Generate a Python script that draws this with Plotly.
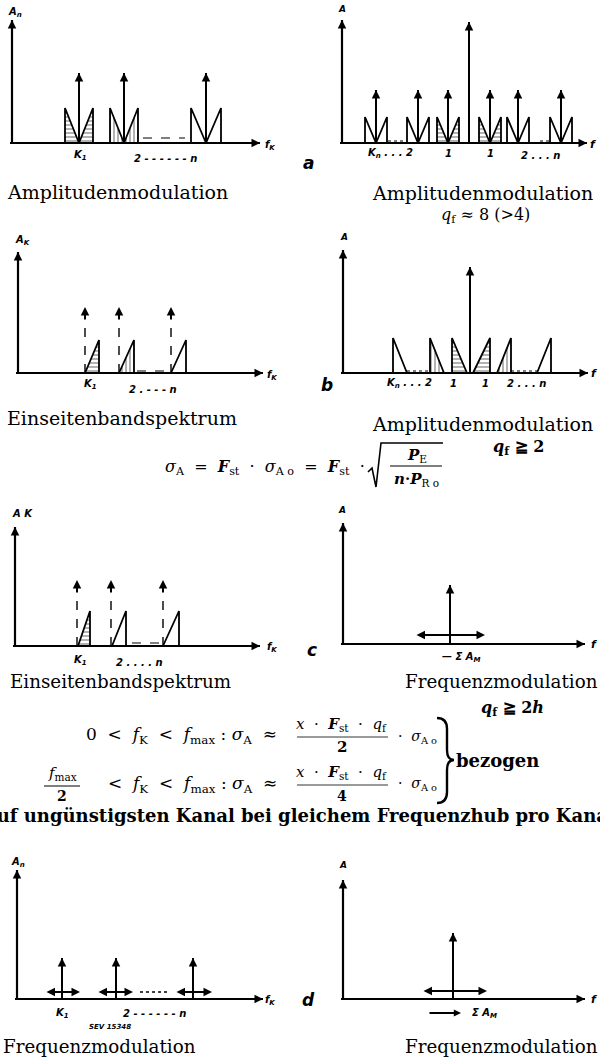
import plotly.graph_objects as go

FIG_W, FIG_H = 600, 1057

# ---------------- data (offset from each panel's axis origin) ----
# (a) left : AM of channel carriers
a1_carrier_f = [67, 112, 194]
a1_carrier_amp = 70
a1_side_half = [14, 14, 15]
a1_side_amp = 35
a1_hatch = ["-", "|", ""]
a1_gap = [131, 173]
a1_gap_amp = 5

# (a) right : AM of the main carrier by the channel carriers
a2_main_f = 127
a2_main_amp = 121
a2_sub_f = [34, 76, 106, 148, 176, 219]
a2_sub_amp = 53
a2_side_half = 11
a2_side_amp = 26
a2_hatch = ["", "", "-", "-", "", ""]
a2_gaps = [[46, 64], [198, 207]]

# (b) left : single sideband
b1_carrier_f = [67, 101, 153]
b1_carrier_amp = 66
b1_band_end = [81, 116, 168]
b1_band_amp = 33
b1_hatch = ["-", "|", ""]
b1_gap = [119, 153]

# (b) right
b2_main_f = 127
b2_main_amp = 106
b2_lower = [[50, 64], [87, 101], [109, 124]]
b2_upper = [[130, 147], [154, 168], [194, 208]]
b2_band_amp = 35
b2_lower_hatch = ["", "|", "-"]
b2_upper_hatch = ["-", "|", ""]
b2_gaps = [[64, 87], [168, 194]]

# (c) left
c1_carrier_f = [62, 96, 148]
c1_carrier_amp = 66
c1_band = [[63, 75], [97, 111], [148, 164]]
c1_band_amp = 35
c1_hatch = ["-", "", ""]
c1_gap = [117, 148]

# (c) right : FM
c2_carrier_f = 107
c2_carrier_amp = 59
c2_swing = [72, 142]
c2_swing_amp = 9

# (d) left
d1_carrier_f = [45, 99, 176]
d1_carrier_amp = 41
d1_swing = [[28, 63], [80, 116], [158, 195]]
d1_swing_amp = 7
d1_gap = [123, 153]

# (d) right
d2_carrier_f = 110
d2_carrier_amp = 66
d2_swing = [79, 144]
d2_swing_amp = 8

# ---------------- panel geometry (pixel origin, axis lengths) ----------------
GEOM = {
    "aL": (12, 143, 123, 248),
    "aR": (342, 143, 123, 245),
    "bL": (18, 373, 121, 245),
    "bR": (343, 373, 123, 245),
    "cL": (15, 646, 119, 245),
    "cR": (343, 644, 121, 242),
    "dL": (17, 999, 129, 246),
    "dR": (343, 999, 119, 242),
}

SERIF = "DejaVu Serif"
HAND = "DejaVu Sans"
HEAD = 0.85

fig = go.Figure()
layout = dict(width=FIG_W, height=FIG_H, margin=dict(l=0, r=0, t=0, b=0),
              paper_bgcolor="white", plot_bgcolor="rgba(0,0,0,0)", showlegend=False)
annotations = []
shapes = []
AX = {}

for i, (name, (ox, oy, ylen, xlen)) in enumerate(GEOM.items(), start=1):
    x0 = max(0, ox - 14)
    x1 = min(FIG_W, ox + 262)
    yt = max(0, oy - 140)
    yb = min(FIG_H, oy + 14)
    xn = "x" if i == 1 else f"x{i}"
    yn = "y" if i == 1 else f"y{i}"
    layout["xaxis" if i == 1 else f"xaxis{i}"] = dict(
        domain=[x0 / FIG_W, x1 / FIG_W], range=[x0 - ox, x1 - ox],
        visible=False, fixedrange=True, anchor=yn)
    layout["yaxis" if i == 1 else f"yaxis{i}"] = dict(
        domain=[1 - yb / FIG_H, 1 - yt / FIG_H], range=[oy - yb, oy - yt],
        visible=False, fixedrange=True, anchor=xn)
    AX[name] = (xn, yn)


def line(ax, xs, ys, width=2.0, dash="solid"):
    fig.add_trace(go.Scatter(x=xs, y=ys, mode="lines",
                             line=dict(color="black", width=width, dash=dash),
                             xaxis=ax[0], yaxis=ax[1], hoverinfo="skip"))


def poly(ax, xs, ys, hatch):
    kw = dict(fill="toself", fillcolor="rgba(0,0,0,0)")
    if hatch:
        kw = dict(fill="toself", fillcolor="white",
                  fillpattern=dict(shape=hatch, fgcolor="black", bgcolor="white",
                                   size=4, solidity=0.3))
    fig.add_trace(go.Scatter(x=xs, y=ys, mode="lines",
                             line=dict(color="black", width=1.8),
                             xaxis=ax[0], yaxis=ax[1], hoverinfo="skip", **kw))


def head(ax, x, y, dx, dy, size=HEAD):
    annotations.append(dict(x=x, y=y, ax=x - dx, ay=y - dy, xref=ax[0], yref=ax[1],
                            axref=ax[0], ayref=ax[1], text="", showarrow=True,
                            arrowhead=2, arrowsize=size, arrowwidth=2,
                            arrowcolor="black", standoff=0))


def dbl(ax, xa, xb, y):
    annotations.append(dict(x=xb, y=y, ax=xa, ay=y, xref=ax[0], yref=ax[1],
                            axref=ax[0], ayref=ax[1], text="", showarrow=True,
                            arrowhead=2, startarrowhead=2, arrowside="end+start",
                            arrowsize=HEAD, startarrowsize=HEAD, arrowwidth=2,
                            arrowcolor="black", standoff=0, startstandoff=0))


def carrier(ax, f, amp, dash="solid"):
    line(ax, [f, f], [0, amp], width=2.0 if dash == "solid" else 1.4, dash=dash)
    head(ax, f, amp, 0, 14)


def axes(name):
    ox, oy, ylen, xlen = GEOM[name]
    ax = AX[name]
    line(ax, [0, 0], [0, ylen], width=2.2)
    line(ax, [-2, xlen], [0, 0], width=2.2)
    head(ax, 0, ylen, 0, 20)
    head(ax, xlen, 0, 20, 0)


def px(x):
    return x / FIG_W


def py(y):
    return 1 - y / FIG_H


def txt(x, y, s, size=11, family=HAND, xanchor="center", color="black", weight="normal", style="normal"):
    annotations.append(dict(x=px(x), y=py(y), xref="paper", yref="paper", text=s,
                            showarrow=False, xanchor=xanchor, yanchor="middle",
                            font=dict(family=family, size=size, color=color,
                                      weight=weight, style=style)))


def hand(x, y, s, size=10, xanchor="center"):
    txt(x, y, s, size=size, family=HAND, xanchor=xanchor, weight="bold", style="italic")


def pline(xa, ya, xb, yb, width=1.0, dash="solid"):
    shapes.append(dict(type="line", xref="paper", yref="paper", x0=px(xa), y0=py(ya),
                       x1=px(xb), y1=py(yb), line=dict(color="black", width=width, dash=dash)))


def ppath(points_cmds, width=2.0):
    parts = []
    for cmd, *pts in points_cmds:
        coords = " ".join(f"{px(pts[k]):.5f},{py(pts[k+1]):.5f}" for k in range(0, len(pts), 2))
        parts.append(f"{cmd} {coords}")
    shapes.append(dict(type="path", xref="paper", yref="paper", path=" ".join(parts),
                       line=dict(color="black", width=width)))


# ---------------- (a) left ----------------
ax = AX["aL"]
axes("aL")
for f, w, hz in zip(a1_carrier_f, a1_side_half, a1_hatch):
    poly(ax, [f - w, f - w, f, f - w], [0, a1_side_amp, 0, 0], hz)
    poly(ax, [f, f + w, f + w, f], [0, a1_side_amp, 0, 0], hz)
    carrier(ax, f, a1_carrier_amp)
line(ax, a1_gap, [a1_gap_amp, a1_gap_amp], width=1.2, dash="dash")

# ---------------- (a) right ----------------
ax = AX["aR"]
axes("aR")
for f, hz in zip(a2_sub_f, a2_hatch):
    w = a2_side_half
    poly(ax, [f - w, f - w, f, f - w], [0, a2_side_amp, 0, 0], hz)
    poly(ax, [f, f + w, f + w, f], [0, a2_side_amp, 0, 0], hz)
    carrier(ax, f, a2_sub_amp)
carrier(ax, a2_main_f, a2_main_amp)
for g in a2_gaps:
    line(ax, g, [2, 2], width=1.2, dash="dot")

# ---------------- (b) left ----------------
ax = AX["bL"]
axes("bL")
for f, e, hz in zip(b1_carrier_f, b1_band_end, b1_hatch):
    poly(ax, [f, e, e, f], [0, b1_band_amp, 0, 0], hz)
    carrier(ax, f, b1_carrier_amp, dash="dash")
line(ax, b1_gap, [2, 2], width=1.2, dash="dash")

# ---------------- (b) right ----------------
ax = AX["bR"]
axes("bR")
for (a, b), hz in zip(b2_lower, b2_lower_hatch):
    poly(ax, [a, a, b, a], [0, b2_band_amp, 0, 0], hz)
for (a, b), hz in zip(b2_upper, b2_upper_hatch):
    poly(ax, [a, b, b, a], [0, b2_band_amp, 0, 0], hz)
carrier(ax, b2_main_f, b2_main_amp)
for g in b2_gaps:
    line(ax, g, [2, 2], width=1.2, dash="dot")

# ---------------- (c) left ----------------
ax = AX["cL"]
axes("cL")
for f, (a, b), hz in zip(c1_carrier_f, c1_band, c1_hatch):
    poly(ax, [a, b, b, a], [0, c1_band_amp, 0, 0], hz)
    carrier(ax, f, c1_carrier_amp, dash="dash")
line(ax, c1_gap, [3, 3], width=1.2, dash="dash")

# ---------------- (c) right ----------------
ax = AX["cR"]
axes("cR")
carrier(ax, c2_carrier_f, c2_carrier_amp)
dbl(ax, c2_swing[0], c2_swing[1], c2_swing_amp)

# ---------------- (d) left ----------------
ax = AX["dL"]
axes("dL")
for f, (a, b) in zip(d1_carrier_f, d1_swing):
    carrier(ax, f, d1_carrier_amp)
    dbl(ax, a, b, d1_swing_amp)
line(ax, d1_gap, [d1_swing_amp, d1_swing_amp], width=1.4, dash="dot")

# ---------------- (d) right ----------------
ax = AX["dR"]
axes("dR")
carrier(ax, d2_carrier_f, d2_carrier_amp)
dbl(ax, d2_swing[0], d2_swing[1], d2_swing_amp)

# ---------------- handwritten axis labels ----------------
hand(15, 13, "A<sub>n</sub>")
hand(270, 146, "f<sub>K</sub>")
hand(80, 155, "K<sub>1</sub>")
hand(165, 159, "2 - - - - - - n")

hand(342, 9, "A", size=9)
hand(593, 144, "f", size=11)
hand(390, 154, "K<sub>n</sub> . . . 2")
hand(448, 154, "1")
hand(490, 154, "1")
hand(540, 155, "2 . . . n")

hand(22, 241, "A<sub>K</sub>")
hand(272, 375, "f<sub>K</sub>")
hand(90, 384, "K<sub>1</sub>")
hand(153, 389, "2 . - - - n")

hand(344, 237, "A", size=9)
hand(594, 374, "f", size=11)
hand(409, 383, "K<sub>n</sub> . . . 2")
hand(453, 383, "1")
hand(485, 383, "1")
hand(526, 383, "2 . . . n")

hand(22, 513, "A K")
hand(272, 647, "f<sub>K</sub>")
hand(80, 660, "K<sub>1</sub>")
hand(139, 662, "2 . . . . n")

hand(342, 510, "A", size=9)
hand(594, 644, "f", size=11)
hand(461, 657, "— Σ A<sub>M</sub>")

hand(18, 862, "A<sub>n</sub>")
hand(270, 1000, "f<sub>K</sub>")
hand(62, 1013, "K<sub>1</sub>")
hand(154, 1013, "2 - - - - - - n")
hand(110, 1027, "SEV 15348", size=7)

hand(343, 865, "A", size=9)
hand(594, 999, "f", size=11)
annotations.append(dict(x=px(461), y=py(1013), ax=-33, ay=0, xref="paper", yref="paper",
                        axref="pixel", ayref="pixel", text="", showarrow=True, arrowhead=2,
                        arrowsize=0.8, arrowwidth=1.8, arrowcolor="black", standoff=0))
hand(484, 1013, "Σ A<sub>M</sub>")

# panel letters
for (x, y, s) in [(308, 163, "a"), (327, 385, "b"), (312, 650, "c"), (308, 1000, "d")]:
    txt(x, y, s, size=17, family=HAND, weight="bold", style="italic")

# ---------------- captions ----------------
CAP = 19
CAPF = 18.3
txt(117, 192, "Amplitudenmodulation", size=CAP, family=SERIF)
txt(482, 193, "Amplitudenmodulation", size=CAP, family=SERIF)
txt(485, 215, "<i>q</i><sub>f</sub> ≈ 8 (>4)", size=16, family=SERIF)
txt(122, 418, "Einseitenbandspektrum", size=CAP, family=SERIF)
txt(482, 424, "Amplitudenmodulation", size=CAP, family=SERIF)
txt(518, 448, "<i>q</i><sub>f</sub> ≧ 2", size=16, family=SERIF, weight="bold")
txt(120, 681, "Einseitenbandspektrum", size=CAPF, family=SERIF)
txt(600, 681, "Frequenzmodulation", size=CAPF, family=SERIF, xanchor="right")
txt(512, 708, "<i>q</i><sub>f</sub> ≧ 2<i>h</i>", size=16, family=SERIF, weight="bold")
txt(99, 1046, "Frequenzmodulation", size=CAPF, family=SERIF)
txt(600, 1046, "Frequenzmodulation", size=CAPF, family=SERIF, xanchor="right")

S = "&nbsp;"
# ---------------- formula 1 ----------------
txt(367, 467, f"<i>σ</i><sub>A</sub>{S} ={S} <b><i>F</i></b><sub>st</sub>{S} ·{S} <i>σ</i><sub>A o</sub>"
    f"{S} ={S} <b><i>F</i></b><sub>st</sub>{S} ·", size=16, family=SERIF, xanchor="right")
ppath([("M", 368, 472), ("L", 372, 468), ("L", 376, 487), ("L", 381, 443), ("L", 443, 443)], width=1.6)
txt(417, 455, "<b><i>P</i></b><sub>E</sub>", size=15, family=SERIF)
pline(390, 466, 442, 466, width=1.2)
txt(416, 479, "<b><i>n</i>·<i>P</i></b><sub>R o</sub>", size=15, family=SERIF)

# ---------------- formula 2 ----------------
txt(279, 735, f"0 {S}&lt;{S} <i>f</i><sub>K</sub> {S}&lt;{S} <i>f</i><sub>max</sub> : <i>σ</i><sub>A</sub>{S} ≈",
    size=17, family=SERIF, xanchor="right")
num = f"<i>x</i>{S} ·{S} <b><i>F</i></b><sub>st</sub>{S} ·{S} <i>q</i><sub>f</sub>"
txt(342, 724, num, size=15, family=SERIF)
pline(297, 737, 388, 737, width=0.8)
txt(342, 747, "<b>2</b>", size=15, family=SERIF)
txt(396, 737, f"·{S} <i>σ</i><sub>A o</sub>", size=14, family=SERIF, xanchor="left")

txt(62, 773, "<i>f</i><sub>max</sub>", size=15, family=SERIF)
pline(44, 786, 80, 786, width=1.2)
txt(62, 796, "<b>2</b>", size=14, family=SERIF)
txt(279, 784, f"&lt;{S} <i>f</i><sub>K</sub> {S}&lt;{S} <i>f</i><sub>max</sub> : <i>σ</i><sub>A</sub>{S} ≈",
    size=17, family=SERIF, xanchor="right")
txt(342, 772, num, size=15, family=SERIF)
pline(297, 785, 388, 785, width=0.8)
txt(342, 796, "<b>4</b>", size=14, family=SERIF)
txt(396, 784, f"·{S} <i>σ</i><sub>A o</sub>", size=14, family=SERIF, xanchor="left")

ppath([("M", 437, 718), ("Q", 447, 718, 447, 729), ("L", 447, 750), ("Q", 447, 760, 454, 760),
       ("Q", 447, 760, 447, 770), ("L", 447, 792), ("Q", 447, 803, 437, 803)], width=2.4)
txt(454, 760, "bezogen", size=18, family=SERIF, xanchor="left", weight="bold")

txt(300, 815, "auf ungünstigsten Kanal bei gleichem Frequenzhub pro Kanal", size=18,
    family=SERIF, weight="bold")

layout["annotations"] = annotations
layout["shapes"] = shapes
fig.update_layout(**layout)
fig.write_html("out.html", config={"displayModeBar": False},
               post_script="document.body.style.margin='0';document.body.style.overflow='hidden';")
